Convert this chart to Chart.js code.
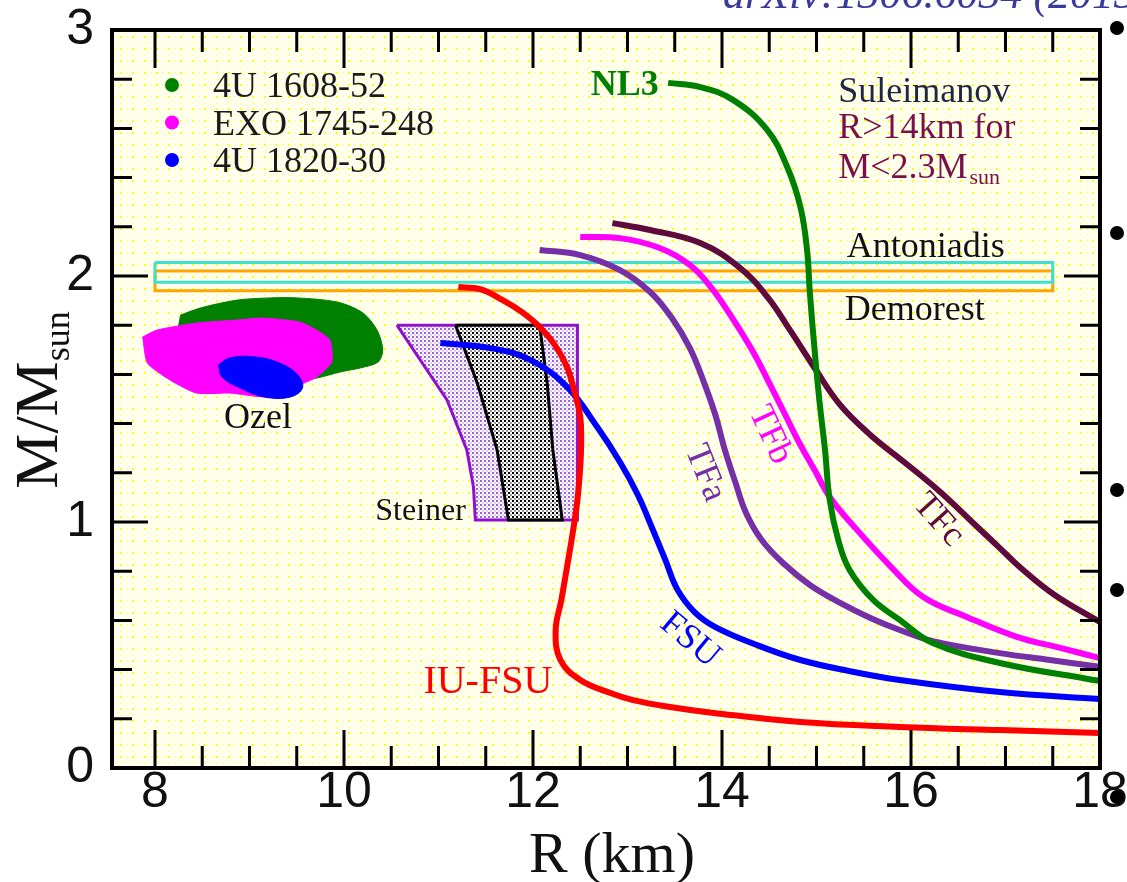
<!DOCTYPE html>
<html>
<head>
<meta charset="utf-8">
<script src="https://cdn.jsdelivr.net/npm/chart.js@4.4.1/dist/chart.umd.min.js"></script>
<style>
html,body{margin:0;padding:0;background:#ffffff;overflow:hidden;}
canvas{display:block;}
</style>
</head>
<body>
<canvas id="chart" width="1127" height="882"></canvas>
<script>
// ---------- tick labels ----------
const xTickLabels = [8, 10, 12, 14, 16, 18];
const yTickLabels = [0, 1, 2, 3];
const xMinorTicks = [8, 8.5, 9, 9.5, 10, 10.5, 11, 11.5, 12, 12.5, 13, 13.5, 14, 14.5, 15, 15.5, 16, 16.5, 17, 17.5];
const yMinorTicks = [0.2, 0.4, 0.6, 0.8, 1, 1.2, 1.4, 1.6, 1.8, 2, 2.2, 2.4, 2.6, 2.8];

// ---------- EOS mass-radius curves (R in km, M in Msun) ----------
const nl3R = [13.43, 13.77, 14.12, 14.48, 14.69, 14.83, 14.90, 14.93, 14.98, 15.03, 15.09, 15.14, 15.23, 15.35, 15.60, 15.88, 16.23, 16.94, 17.93, 18.0];
const nl3M = [2.785, 2.768, 2.715, 2.593, 2.443, 2.280, 2.106, 1.931, 1.699, 1.496, 1.293, 1.089, 0.927, 0.805, 0.683, 0.602, 0.508, 0.427, 0.358, 0.354];

const tfcR = [12.84, 13.24, 13.77, 14.19, 14.48, 14.72, 14.98, 15.25, 15.57, 15.94, 16.31, 16.68, 16.94, 17.15, 17.52, 18.0];
const tfcM = [2.215, 2.187, 2.134, 2.033, 1.915, 1.780, 1.626, 1.476, 1.354, 1.240, 1.122, 0.988, 0.894, 0.817, 0.703, 0.593];

const tfbR = [12.50, 12.92, 13.34, 13.66, 13.89, 14.11, 14.33, 14.51, 14.67, 14.83, 14.98, 15.14, 15.41, 15.78, 16.13, 16.59, 17.12, 17.58, 18.0];
const tfbM = [2.159, 2.154, 2.114, 2.045, 1.951, 1.829, 1.691, 1.557, 1.435, 1.313, 1.211, 1.102, 0.976, 0.821, 0.695, 0.614, 0.533, 0.488, 0.447];

const tfaR = [12.07, 12.50, 12.92, 13.24, 13.47, 13.66, 13.80, 13.93, 14.03, 14.14, 14.25, 14.42, 14.67, 14.93, 15.25, 15.57, 15.88, 16.23, 16.94, 17.47, 18.0];
const tfaM = [2.106, 2.085, 2.024, 1.935, 1.829, 1.707, 1.577, 1.435, 1.293, 1.163, 1.041, 0.927, 0.825, 0.744, 0.671, 0.610, 0.561, 0.516, 0.467, 0.439, 0.411];

const fsuR = [11.02, 11.55, 11.97, 12.36, 12.68, 12.92, 13.11, 13.26, 13.40, 13.53, 13.71, 13.93, 14.37, 14.83, 15.35, 15.88, 16.94, 18.0];
const fsuM = [1.728, 1.707, 1.659, 1.549, 1.386, 1.244, 1.110, 0.976, 0.846, 0.724, 0.634, 0.573, 0.500, 0.439, 0.394, 0.358, 0.309, 0.280];

const iufsuR = [11.21, 11.44, 11.68, 11.88, 12.07, 12.23, 12.36, 12.44, 12.50, 12.51, 12.50, 12.47, 12.42, 12.36, 12.30, 12.24, 12.29, 12.50, 12.82, 13.06, 13.45, 13.91, 14.83, 15.88, 16.94, 18.0];
const iufsuM = [1.955, 1.947, 1.902, 1.854, 1.793, 1.720, 1.630, 1.528, 1.427, 1.325, 1.224, 1.089, 0.955, 0.817, 0.683, 0.561, 0.439, 0.358, 0.305, 0.276, 0.248, 0.224, 0.187, 0.167, 0.154, 0.142];

// ---------- mass constraint bands ----------
const antoniadisR = [8, 17.5, 17.5, 8, 8];
const antoniadisM = [2.055, 2.055, 1.975, 1.975, 2.055];
const demorestR = [8, 17.5, 17.5, 8, 8];
const demorestM = [2.02, 2.02, 1.94, 1.94, 2.02];

// ---------- Steiner region ----------
const steinerOuterR = [10.56, 12.47, 12.47, 11.39, 11.37, 11.30, 11.09, 10.56];
const steinerOuterM = [1.80, 1.80, 1.008, 1.008, 1.142, 1.293, 1.496, 1.80];
const steinerInnerR = [11.18, 12.07, 12.15, 12.21, 12.31, 11.74, 11.62, 11.41, 11.18];
const steinerInnerM = [1.80, 1.80, 1.565, 1.293, 1.008, 1.008, 1.293, 1.565, 1.80];

// ---------- Ozel sources ----------
const src1608R = [8.27, 8.48, 8.87, 9.22, 9.50, 9.93, 10.20, 10.35, 10.41, 10.36, 10.17, 9.96, 9.71, 9.43, 8.90, 8.37, 8.24, 8.27];
const src1608M = [1.841, 1.870, 1.902, 1.911, 1.911, 1.894, 1.850, 1.780, 1.699, 1.650, 1.626, 1.610, 1.585, 1.569, 1.577, 1.659, 1.740, 1.841];
const src1745R = [7.87, 8.02, 8.44, 8.87, 9.14, 9.53, 9.71, 9.85, 9.87, 9.71, 9.53, 9.22, 8.79, 8.44, 8.16, 7.92, 7.87];
const src1745M = [1.752, 1.780, 1.809, 1.821, 1.829, 1.813, 1.780, 1.740, 1.650, 1.589, 1.557, 1.508, 1.524, 1.524, 1.577, 1.646, 1.752];
const src1820R = [8.67, 8.79, 9.06, 9.32, 9.51, 9.56, 9.43, 9.16, 8.90, 8.71, 8.67];
const src1820M = [1.638, 1.667, 1.671, 1.646, 1.598, 1.545, 1.508, 1.508, 1.545, 1.589, 1.638];

const legendLabels = ['4U 1608-52', 'EXO 1745-248', '4U 1820-30'];
const legendColors = ['#008000', '#ff00ff', '#0000ff'];

// ---------- helpers ----------
const canvas = document.getElementById('chart');
const g = canvas.getContext('2d');
function pattern(size, painter) {
  const c = document.createElement('canvas');
  c.width = size; c.height = size;
  const p = c.getContext('2d');
  painter(p);
  return g.createPattern(c, 'repeat');
}
const plotBg = pattern(12, p => {
  p.fillStyle = '#fffff4'; p.fillRect(0, 0, 12, 12);
  p.fillStyle = '#ffffa8'; p.fillRect(6, 0, 2, 2); p.fillRect(0, 6, 2, 2);
  p.fillStyle = '#ffffcc'; p.fillRect(6, 6, 2, 2); p.fillRect(3, 3, 2, 2); p.fillRect(9, 9, 2, 2); p.fillRect(3, 9, 2, 2); p.fillRect(9, 3, 2, 2);
  p.fillStyle = '#ffff00'; p.fillRect(0, 0, 2, 2);
});
const purpleHatch = pattern(4, p => {
  p.fillStyle = '#ffffff'; p.fillRect(0, 0, 4, 4);
  p.fillStyle = '#a060e0'; p.fillRect(0, 0, 2, 2);
  p.fillStyle = '#e2ccf5'; p.fillRect(2, 2, 2, 2);
});
const blackHatch = pattern(4, p => {
  p.fillStyle = '#ffffff'; p.fillRect(0, 0, 4, 4);
  p.fillStyle = '#000000'; p.fillRect(0, 0, 2, 2);
  p.fillStyle = '#9a9a9a'; p.fillRect(2, 2, 2, 2);
});

const pts = (R, M) => R.map((r, i) => ({ x: r, y: M[i] }));
function curve(label, R, M, color) {
  return { label, data: pts(R, M), borderColor: color, borderWidth: 6, pointRadius: 0, tension: 0.4, fill: false, clip: 0 };
}
function shape(label, R, M, fill, stroke, width, tension) {
  return { label, data: pts(R, M), backgroundColor: fill, borderColor: stroke, borderWidth: width, pointRadius: 0, tension: tension, fill: 'shape', clip: 0 };
}
function rect(label, R, M, color) {
  return { label, data: pts(R, M), borderColor: color, borderWidth: 3, pointRadius: 0, tension: 0, fill: false, clip: 0 };
}

// drawn bottom to top
const datasets = [
  shape('Steiner', steinerOuterR, steinerOuterM, purpleHatch, '#9010d0', 3, 0),
  shape('Steiner core', steinerInnerR, steinerInnerM, blackHatch, '#000000', 3, 0),
  shape(legendLabels[0], src1608R, src1608M, '#008000', '#008000', 1, 0.3),
  shape(legendLabels[1], src1745R, src1745M, '#ff00ff', '#ff00ff', 1, 0.2),
  shape(legendLabels[2], src1820R, src1820M, '#0000ff', '#0000ff', 1, 0.4),
  rect('Demorest', demorestR, demorestM, '#ffa500'),
  rect('Antoniadis', antoniadisR, antoniadisM, '#40e0d0'),
  curve('TFc', tfcR, tfcM, '#5e0a3c'),
  curve('TFb', tfbR, tfbM, '#ff00ff'),
  curve('TFa', tfaR, tfaM, '#7530a8'),
  curve('NL3', nl3R, nl3M, '#008000'),
  curve('FSU', fsuR, fsuM, '#0000ff'),
  curve('IU-FSU', iufsuR, iufsuM, '#ff0000')
];
datasets.forEach((d, i) => { d.order = -i; });

// text annotations (positions in data units)
const notes = [
  { text: 'NL3', R: 12.97, M: 2.772, color: '#008000', size: 36, bold: true, align: 'center', base: 'middle' },
  { text: 'Suleimanov', R: 15.23, M: 2.707, color: '#1e2840', size: 36, align: 'left', base: 'alphabetic' },
  { text: 'R>14km for', R: 15.23, M: 2.561, color: '#7a1048', size: 36, align: 'left', base: 'alphabetic' },
  { text: 'M<2.3M', sub: 'sun', R: 15.23, M: 2.398, color: '#7a1048', size: 36, align: 'left', base: 'alphabetic' },
  { text: 'Antoniadis', R: 15.32, M: 2.077, color: '#111111', size: 36, align: 'left', base: 'alphabetic' },
  { text: 'Demorest', R: 15.30, M: 1.821, color: '#111111', size: 36, align: 'left', base: 'alphabetic' },
  { text: 'Ozel', R: 9.09, M: 1.382, color: '#111111', size: 36, align: 'center', base: 'alphabetic' },
  { text: 'Steiner', R: 11.29, M: 1.008, color: '#111111', size: 32, align: 'right', base: 'alphabetic' },
  { text: 'IU-FSU', R: 10.84, M: 0.305, color: '#ff0000', size: 40, align: 'left', base: 'alphabetic' },
  { text: 'FSU', R: 13.66, M: 0.520, color: '#0000ff', size: 36, align: 'center', base: 'middle', rot: 40 },
  { text: 'TFa', R: 13.82, M: 1.199, color: '#7530a8', size: 36, align: 'center', base: 'middle', rot: 68 },
  { text: 'TFb', R: 14.51, M: 1.354, color: '#ff00ff', size: 36, align: 'center', base: 'middle', rot: 65 },
  { text: 'TFc', R: 16.29, M: 1.008, color: '#5e0a3c', size: 36, align: 'center', base: 'middle', rot: 48 }
];

const SERIF = '"Liberation Serif", "Times New Roman", serif';

const decor = {
  id: 'decor',
  beforeDatasetsDraw(chart) {
    const { ctx, chartArea: a } = chart;
    ctx.save();
    ctx.fillStyle = plotBg;
    ctx.fillRect(a.left, a.top, a.right - a.left, a.bottom - a.top);
    ctx.restore();
  },
  afterDatasetsDraw(chart) {
    const { ctx, chartArea: a, scales: { x, y } } = chart;
    ctx.save();
    // inward ticks
    ctx.strokeStyle = '#000';
    ctx.lineWidth = 3;
    ctx.beginPath();
    xMinorTicks.forEach(v => {
      const px = x.getPixelForValue(v);
      const L = xTickLabels.includes(v) ? 38 : 22;
      ctx.moveTo(px, a.bottom); ctx.lineTo(px, a.bottom - L);
      ctx.moveTo(px, a.top); ctx.lineTo(px, a.top + L);
    });
    yMinorTicks.forEach(v => {
      const py = y.getPixelForValue(v);
      const L = yTickLabels.includes(v) ? 36 : 20;
      ctx.moveTo(a.left, py); ctx.lineTo(a.left + L, py);
      ctx.moveTo(a.right, py); ctx.lineTo(a.right - L, py);
    });
    ctx.stroke();
    // frame
    ctx.lineWidth = 4;
    ctx.strokeRect(a.left, a.top, a.right - a.left, a.bottom - a.top);

    // annotations
    notes.forEach(n => {
      const px = x.getPixelForValue(n.R), py = y.getPixelForValue(n.M);
      ctx.save();
      ctx.translate(px, py);
      if (n.rot) ctx.rotate(n.rot * Math.PI / 180);
      ctx.font = (n.bold ? 'bold ' : '') + n.size + 'px ' + SERIF;
      ctx.fillStyle = n.color;
      ctx.textAlign = n.align;
      ctx.textBaseline = n.base;
      ctx.fillText(n.text, 0, 0);
      if (n.sub) {
        const w = ctx.measureText(n.text).width;
        ctx.font = Math.round(n.size * 0.6) + 'px ' + SERIF;
        ctx.textAlign = 'left';
        ctx.fillText(n.sub, w + 2, 6);
      }
      ctx.restore();
    });

    // legend
    legendLabels.forEach((t, i) => {
      const cy = a.top + 55 + i * 37.5;
      ctx.fillStyle = legendColors[i];
      ctx.beginPath(); ctx.arc(a.left + 60, cy, 7, 0, Math.PI * 2); ctx.fill();
      ctx.fillStyle = '#1a1a1a';
      ctx.font = '36px ' + SERIF;
      ctx.textAlign = 'left'; ctx.textBaseline = 'alphabetic';
      ctx.fillText(t, a.left + 101, cy + 12);
    });

    // axis titles
    ctx.fillStyle = '#111';
    ctx.font = '58px ' + SERIF;
    ctx.textAlign = 'center'; ctx.textBaseline = 'alphabetic';
    ctx.fillText('R (km)', 612, 872);

    ctx.save();
    ctx.translate(57, 400);
    ctx.rotate(-Math.PI / 2);
    ctx.textBaseline = 'alphabetic';
    ctx.font = '62px ' + SERIF;
    const w1 = ctx.measureText('M/M').width;
    ctx.font = '36px ' + SERIF;
    const w2 = ctx.measureText('sun').width;
    const start = -(w1 + w2) / 2;
    ctx.textAlign = 'left';
    ctx.font = '62px ' + SERIF;
    ctx.fillText('M/M', start, 0);
    ctx.font = '36px ' + SERIF;
    ctx.fillText('sun', start + w1, 12);
    ctx.restore();

    // slide remnants: cut-off reference line and bullets
    ctx.fillStyle = '#3a3a9a';
    ctx.font = 'italic 44px ' + SERIF;
    ctx.textAlign = 'left';
    ctx.textBaseline = 'alphabetic';
    ctx.fillText('arXiv:1306.6034 (2013)', 723, 8);
    ctx.fillStyle = '#000';
    [28, 233, 490, 590, 797].forEach(by => {
      ctx.beginPath(); ctx.arc(1117, by, 7, 0, Math.PI * 2); ctx.fill();
    });
    ctx.restore();
  }
};

new Chart(canvas, {
  type: 'line',
  data: { datasets },
  options: {
    responsive: false,
    animation: false,
    events: [],
    layout: { padding: { top: 30, right: 27, left: 0, bottom: 0 } },
    plugins: { legend: { display: false }, tooltip: { enabled: false }, title: { display: false } },
    scales: {
      x: {
        type: 'linear', min: 7.545, max: 18,
        grid: { display: false }, border: { display: false },
        ticks: { color: '#111', font: { family: 'Liberation Sans', size: 50 }, padding: -13, maxRotation: 0, autoSkip: false },
        afterBuildTicks: s => { s.ticks = xTickLabels.map(v => ({ value: v })); },
        afterFit: s => { s.height = 114; s.paddingLeft = 0; s.paddingRight = 0; }
      },
      y: {
        type: 'linear', min: 0, max: 3,
        grid: { display: false }, border: { display: false },
        ticks: { color: '#111', font: { family: 'Liberation Sans', size: 50 }, padding: 10, autoSkip: false },
        afterBuildTicks: s => { s.ticks = yTickLabels.map(v => ({ value: v })); },
        afterFit: s => { s.width = 112; s.paddingTop = 0; s.paddingBottom = 0; }
      }
    }
  },
  plugins: [decor]
});
</script>
</body>
</html>
